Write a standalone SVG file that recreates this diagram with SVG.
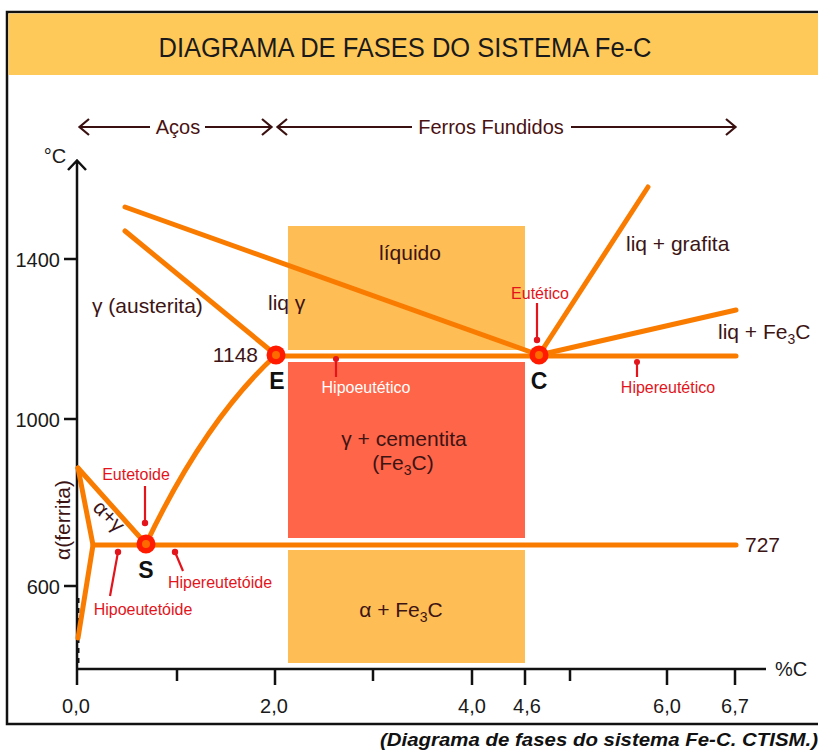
<svg xmlns="http://www.w3.org/2000/svg" width="818" height="752" viewBox="0 0 818 752">
<style>
text{font-family:"Liberation Sans",Arial,sans-serif}
.dark{fill:#3d1414;font-size:21px}
.red{fill:#e3141b;font-size:16px}
.ax{fill:#1a1a1a;font-size:20px}
.hdr{fill:#4a1212;font-size:20px}
.pl{fill:none;stroke:#f97c00;stroke-width:5;stroke-linecap:round;stroke-linejoin:round}
.ptr{stroke:#e3141b;stroke-width:2.2;fill:none}
.pdot{fill:#e3141b}
.blk{stroke:#111;stroke-width:2.5;fill:none}
.harr{stroke:#3a1010;stroke-width:2.2;fill:none}
.pt{fill:#ff1a00}
.pti{fill:#ff6a00}
.lab{font-family:"Liberation Sans",Arial,sans-serif;font-weight:bold;font-size:23px;fill:#111}
</style>

<!-- frame and title -->
<rect x="7" y="12" width="830" height="712" fill="#fff" stroke="#111" stroke-width="2.5"/>
<rect x="8.5" y="13.5" width="812" height="61.5" fill="#ffc95a"/>
<text x="405" y="57" text-anchor="middle" font-size="27" fill="#1a1a1a" textLength="493" lengthAdjust="spacingAndGlyphs">DIAGRAMA DE FASES DO SISTEMA Fe-C</text>

<!-- header ranges -->
<g id="ranges">
<path class="harr" d="M80,127 L150,127 M205,127 L270,127 M278,127 L412,127 M571,127 L734,127"/>
<path class="harr" d="M89,119 L79.5,127 L89,135 M262,119 L271.5,127 L262,135 M287,119 L277.5,127 L287,135 M726,119 L735.5,127 L726,135"/>
<text class="hdr" x="178" y="134" text-anchor="middle">Aços</text>
<text class="hdr" x="491" y="134" text-anchor="middle">Ferros Fundidos</text>
</g>

<!-- phase region boxes -->
<g id="box-liquido">
<rect x="288" y="226" width="237" height="124" fill="#febd55"/>
<text class="dark" x="410" y="260" text-anchor="middle">líquido</text>
</g>
<g id="box-cementita">
<rect x="288" y="362" width="237" height="176" fill="#ff6548"/>
<text class="dark" x="404" y="446" text-anchor="middle">γ + cementita</text>
<text class="dark" x="403" y="470" text-anchor="middle">(Fe<tspan font-size="14" dy="5">3</tspan><tspan dy="-5">C)</tspan></text>
</g>
<g id="box-alfa-fe3c">
<rect x="288" y="550" width="237" height="113" fill="#febd55"/>
<text class="dark" x="401" y="617" text-anchor="middle">α + Fe<tspan font-size="14" dy="5">3</tspan><tspan dy="-5">C</tspan></text>
</g>

<!-- axes -->
<g id="axes">
<path class="blk" d="M77,669 L77,161 M68,170 L77,160.5 L86,170"/>
<path class="blk" d="M64,259 L77,259 M64,419 L77,419 M64,586 L77,586"/>
<path class="blk" d="M76,669 L766,669"/>
<path class="blk" d="M77,669 L77,685 M275,669 L275,685 M472,669 L472,685 M525,669 L525,685 M667,669 L667,685 M735,669 L735,685 M177,669 L177,681 M373,669 L373,681 M570,669 L570,681"/>
<path d="M78,598 L78,664" stroke="#111" stroke-width="3" stroke-dasharray="5,5"/>
<text class="ax" x="55" y="163" text-anchor="middle">°C</text>
<text class="ax" x="60" y="267" text-anchor="end">1400</text>
<text class="ax" x="60" y="427" text-anchor="end">1000</text>
<text class="ax" x="60" y="594" text-anchor="end">600</text>
<text class="ax" x="791" y="676" text-anchor="middle">%C</text>
<text class="ax" x="76" y="713" text-anchor="middle">0,0</text>
<text class="ax" x="274" y="713" text-anchor="middle">2,0</text>
<text class="ax" x="472" y="713" text-anchor="middle">4,0</text>
<text class="ax" x="527" y="713" text-anchor="middle">4,6</text>
<text class="ax" x="667" y="713" text-anchor="middle">6,0</text>
<text class="ax" x="735" y="713" text-anchor="middle">6,7</text>
</g>

<!-- phase boundary lines -->
<g id="connectors">
<path class="pl" d="M125,207 L539,355"/>
<path class="pl" d="M125,231 L276,355"/>
<path class="pl" d="M276,356 L736,356"/>
<path class="pl" d="M539,355 L648,187"/>
<path class="pl" d="M539,355 L736,310"/>
<path class="pl" d="M276,355 Q205,420 146,544"/>
<path class="pl" d="M93,545 L736,545"/>
<path class="pl" d="M78,468 L146,544"/>
<path class="pl" d="M78,468 L93,545 L78,638"/>
</g>

<!-- region labels -->
<g id="labels">
<text class="dark" x="92" y="313">γ (austerita)</text>
<text class="dark" x="268" y="310">liq γ</text>
<text class="dark" x="626" y="251">liq + grafita</text>
<text class="dark" x="718" y="339">liq + Fe<tspan font-size="14" dy="5">3</tspan><tspan dy="-5">C</tspan></text>
<text class="dark" x="258" y="362" text-anchor="end">1148</text>
<text class="dark" x="745" y="552">727</text>
<text class="dark" x="0" y="0" font-size="20" transform="translate(70,520) rotate(-90)" text-anchor="middle">α(ferrita)</text>
<text class="dark" x="0" y="0" font-size="16" transform="translate(104,521) rotate(45)" text-anchor="middle">α+γ</text>
</g>

<!-- pointers -->
<g id="pointers">
<g id="ptr-eutetoide">
<path class="ptr" d="M145,486 L145,522"/><circle class="pdot" cx="145" cy="523" r="3.2"/>
<text class="red" x="136" y="480" text-anchor="middle">Eutetoide</text>
</g>
<g id="ptr-hipoeutetoide">
<path class="ptr" d="M118,552 L110,596"/><circle class="pdot" cx="118" cy="552" r="3.2"/>
<text class="red" x="143" y="615" text-anchor="middle">Hipoeutetóide</text>
</g>
<g id="ptr-hipereutetoide">
<path class="ptr" d="M175,552 L183,571"/><circle class="pdot" cx="175" cy="552" r="3.2"/>
<text class="red" x="220" y="588" text-anchor="middle">Hipereutetóide</text>
</g>
<g id="ptr-hipoeutetico">
<path class="ptr" d="M336,359 L336,377"/><circle class="pdot" cx="336" cy="359" r="3"/>
<text class="red" x="366" y="393" text-anchor="middle" style="fill:#fff">Hipoeutético</text>
</g>
<g id="ptr-eutetico">
<path class="ptr" d="M537,303 L537,340"/><circle class="pdot" cx="537" cy="340" r="3.2"/>
<text class="red" x="540" y="299" text-anchor="middle">Eutético</text>
</g>
<g id="ptr-hipereutetico">
<path class="ptr" d="M637,362 L637,377"/><circle class="pdot" cx="637" cy="362" r="3"/>
<text class="red" x="668" y="393" text-anchor="middle">Hipereutético</text>
</g>
</g>

<!-- key points -->
<g id="point-E">
<circle class="pt" cx="276" cy="355" r="9.5"/><circle class="pti" cx="276" cy="355" r="4"/>
<text class="lab" x="277" y="389" text-anchor="middle">E</text>
</g>
<g id="point-C">
<circle class="pt" cx="539" cy="355" r="9.5"/><circle class="pti" cx="539" cy="355" r="4"/>
<text class="lab" x="539" y="389" text-anchor="middle">C</text>
</g>
<g id="point-S">
<circle class="pt" cx="146" cy="544" r="9.5"/><circle class="pti" cx="146" cy="544" r="4"/>
<text class="lab" x="146" y="578" text-anchor="middle">S</text>
</g>

<text x="818" y="746" text-anchor="end" font-size="19" font-weight="bold" font-style="italic" fill="#111" textLength="438" lengthAdjust="spacingAndGlyphs">(Diagrama de fases do sistema Fe-C. CTISM.)</text>
</svg>
